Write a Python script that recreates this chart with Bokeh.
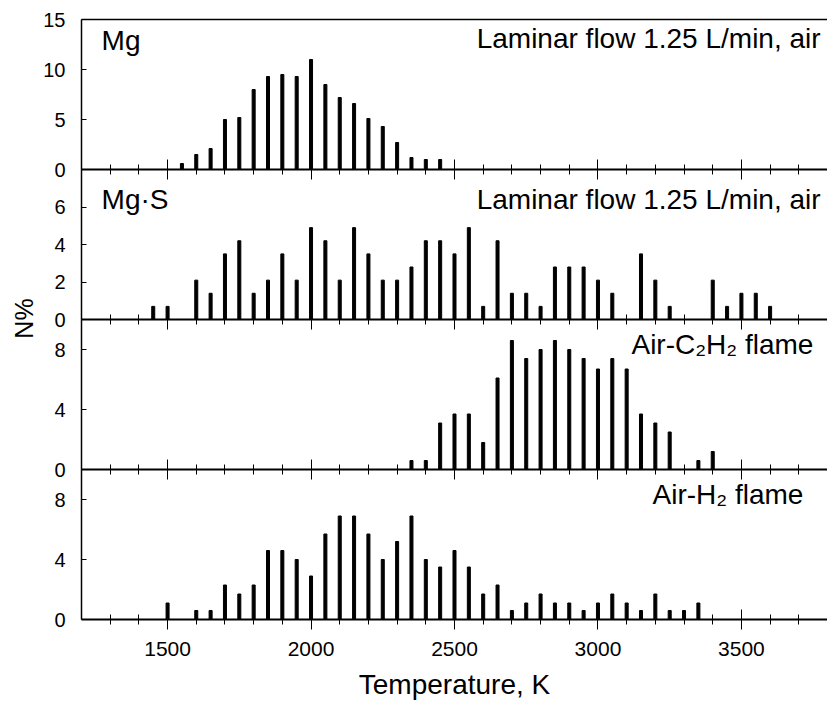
import math
from bokeh.plotting import figure
from bokeh.models import FixedTicker, LinearAxis, Label, Range1d
from bokeh.layouts import column, row
from bokeh.core.properties import value
from bokeh.embed import file_html
from bokeh.resources import INLINE

# ---------------- data ----------------
temp_mg = [1550, 1600, 1650, 1700, 1750, 1800, 1850, 1900, 1950, 2000,
           2050, 2100, 2150, 2200, 2250, 2300, 2350, 2400, 2450]
n_mg = [0.6, 1.5, 2.1, 5.0, 5.2, 8.0, 9.3, 9.5, 9.3, 11.0,
        8.5, 7.2, 6.6, 5.1, 4.3, 2.7, 1.2, 1.0, 1.0]

temp_mgs = [1450, 1500, 1600, 1650, 1700, 1750, 1800, 1850, 1900, 1950,
            2000, 2050, 2100, 2150, 2200, 2250, 2300, 2350, 2400, 2450,
            2500, 2550, 2600, 2650, 2700, 2750, 2800, 2850, 2900, 2950,
            3000, 3050, 3150, 3200, 3250, 3400, 3450, 3500, 3550, 3600]
n_mgs = [0.7, 0.7, 2.1, 1.4, 3.5, 4.2, 1.4, 2.1, 3.5, 2.1,
         4.9, 4.2, 2.1, 4.9, 3.5, 2.1, 2.1, 2.8, 4.2, 4.2,
         3.5, 4.9, 0.7, 4.2, 1.4, 1.4, 0.7, 2.8, 2.8, 2.8,
         2.1, 1.4, 3.5, 2.1, 0.7, 2.1, 0.7, 1.4, 1.4, 0.7]

temp_c2h2 = [2350, 2400, 2450, 2500, 2550, 2600, 2650, 2700, 2750, 2800,
             2850, 2900, 2950, 3000, 3050, 3100, 3150, 3200, 3250, 3350, 3400]
n_c2h2 = [0.6, 0.6, 3.1, 3.7, 3.7, 1.8, 6.1, 8.6, 7.4, 8.0,
          8.6, 8.0, 7.4, 6.7, 7.4, 6.7, 3.7, 3.1, 2.5, 0.6, 1.2]

temp_h2 = [1500, 1600, 1650, 1700, 1750, 1800, 1850, 1900, 1950, 2000,
           2050, 2100, 2150, 2200, 2250, 2300, 2350, 2400, 2450, 2500,
           2550, 2600, 2650, 2700, 2750, 2800, 2850, 2900, 2950, 3000,
           3050, 3100, 3150, 3200, 3250, 3300, 3350]
n_h2 = [1.1, 0.6, 0.6, 2.3, 1.7, 2.3, 4.6, 4.6, 4.0, 2.9,
        5.7, 6.9, 6.9, 5.7, 4.0, 5.2, 6.9, 4.0, 3.5, 4.6,
        3.5, 1.7, 2.3, 0.6, 1.1, 1.7, 1.1, 1.1, 0.6, 1.1,
        1.7, 1.1, 0.6, 1.7, 0.6, 0.6, 1.1]

x_major_ticks = [1500, 2000, 2500, 3000, 3500]
x_minor_ticks = [1300, 1400, 1600, 1700, 1800, 1900, 2100, 2200, 2300, 2400,
                 2600, 2700, 2800, 2900, 3100, 3200, 3300, 3400, 3600, 3700]
y_ticks_mg = [0, 5, 10, 15]
y_ticks_mgs = [0, 2, 4, 6]
y_ticks_flame = [0, 4, 8]

label_mg = "Mg"
label_mgs = "Mg\u00b7S"
label_laminar = "Laminar flow 1.25 L/min, air"
label_c2h2 = "Air-C\u2082H\u2082 flame"
label_h2 = "Air-H\u2082 flame"
x_title = "Temperature, K"
y_title = "N%"

FONT = "Liberation Sans"
x_range = Range1d(1200, 3800)

OVER = 30      # overlap of stacked panels (px)
LEFT_W = 40    # width of the strip holding the "N%" title
MAIN_W = 827 - LEFT_W


def make_panel(height, ymax, yticks, top_border, bottom_border, bottom=False):
    p = figure(width=MAIN_W, height=height, x_range=x_range,
               y_range=Range1d(0, ymax), output_backend="svg",
               toolbar_location=None, x_axis_location=None,
               y_axis_location=None, min_border_left=80 - LEFT_W,
               min_border_right=0,
               min_border_top=top_border, min_border_bottom=bottom_border,
               background_fill_color=None, border_fill_color=None,
               outline_line_color=None)
    p.grid.visible = False
    yax = LinearAxis(ticker=FixedTicker(ticks=yticks, minor_ticks=[]),
                     major_tick_in=5, major_tick_out=0,
                     minor_tick_in=0, minor_tick_out=0,
                     axis_line_width=1.5, axis_line_color="black",
                     major_tick_line_color="black",
                     major_label_text_font=FONT,
                     major_label_text_font_size="20px",
                     major_label_text_color="black",
                     major_label_standoff=16)
    p.add_layout(yax, "left")
    xax = LinearAxis(ticker=FixedTicker(ticks=x_major_ticks,
                                        minor_ticks=x_minor_ticks),
                     major_tick_in=10, major_tick_out=10,
                     minor_tick_in=5, minor_tick_out=5,
                     axis_line_width=2, axis_line_color="black",
                     major_tick_line_color="black",
                     minor_tick_line_color="black",
                     major_label_text_font=FONT)
    if bottom:
        xax.major_label_text_font_size = "21px"
        xax.major_label_text_color = "black"
        xax.major_label_standoff = 12
        xax.axis_label = x_title
        xax.axis_label_text_font = FONT
        xax.axis_label_text_font_size = "28px"
        xax.axis_label_text_font_style = "normal"
        xax.axis_label_text_color = "black"
        xax.axis_label_standoff = 10
    else:
        # tick labels are shown only on the bottom panel
        xax.major_label_text_font_size = "11px"
        xax.major_label_text_color = None
        xax.major_label_standoff = 0
    p.add_layout(xax, "below")
    return p


def add_label(p, x, y, text, align):
    p.add_layout(Label(x=x, y=y, text=text, text_font=FONT,
                       text_font_size="28px", text_color="black",
                       text_align=align, text_baseline="alphabetic"))


p1 = make_panel(19 + 150 + OVER, 15, y_ticks_mg, 19, OVER)
top_ax = LinearAxis(ticker=FixedTicker(ticks=[], minor_ticks=[]),
                    major_tick_in=0, major_tick_out=0,
                    minor_tick_in=0, minor_tick_out=0,
                    axis_line_width=1.5, axis_line_color="black",
                    major_label_text_color=None, major_label_standoff=0)
p1.add_layout(top_ax, "above")
p1.vbar(x=temp_mg, top=n_mg, bottom=0, width=10.5, color="black")
add_label(p1, 1270, 12.9, label_mg, "left")
add_label(p1, 3776, 13.1, label_laminar, "right")

p2 = make_panel(150 + OVER, 8, y_ticks_mgs, 0, OVER)
p2.vbar(x=temp_mgs, top=n_mgs, bottom=0, width=10.5, color="black")
add_label(p2, 1270, 6.4, label_mgs, "left")
add_label(p2, 3776, 6.4, label_laminar, "right")
p2.margin = (-OVER, 0, 0, 0)

p3 = make_panel(150 + OVER, 10, y_ticks_flame, 0, OVER)
p3.vbar(x=temp_c2h2, top=n_c2h2, bottom=0, width=10.5, color="black")
add_label(p3, 3751, 8.35, label_c2h2, "right")
p3.margin = (-OVER, 0, 0, 0)

p4 = make_panel(150 + 84, 10, y_ticks_flame, 0, 84, bottom=True)
p4.vbar(x=temp_h2, top=n_h2, bottom=0, width=10.5, color="black")
add_label(p4, 3716, 8.35, label_h2, "right")
p4.margin = (-OVER, 0, 0, 0)

# narrow strip with the shared y-axis title
pl = figure(width=LEFT_W, height=703, x_range=Range1d(0, LEFT_W),
            y_range=Range1d(0, 703), output_backend="svg",
            toolbar_location=None, x_axis_location=None,
            y_axis_location=None, min_border=0,
            background_fill_color=None, border_fill_color=None,
            outline_line_color=None)
pl.grid.visible = False
pl.text(x=[23], y=[703 - 318], text=[y_title], angle=math.pi / 2,
        text_font=value(FONT), text_font_size="25px", text_color="black",
        text_align="center", text_baseline="middle")

layout = row(pl, column(p1, p2, p3, p4, spacing=0), spacing=0)

open("out.html", "w").write(file_html(layout, INLINE))
